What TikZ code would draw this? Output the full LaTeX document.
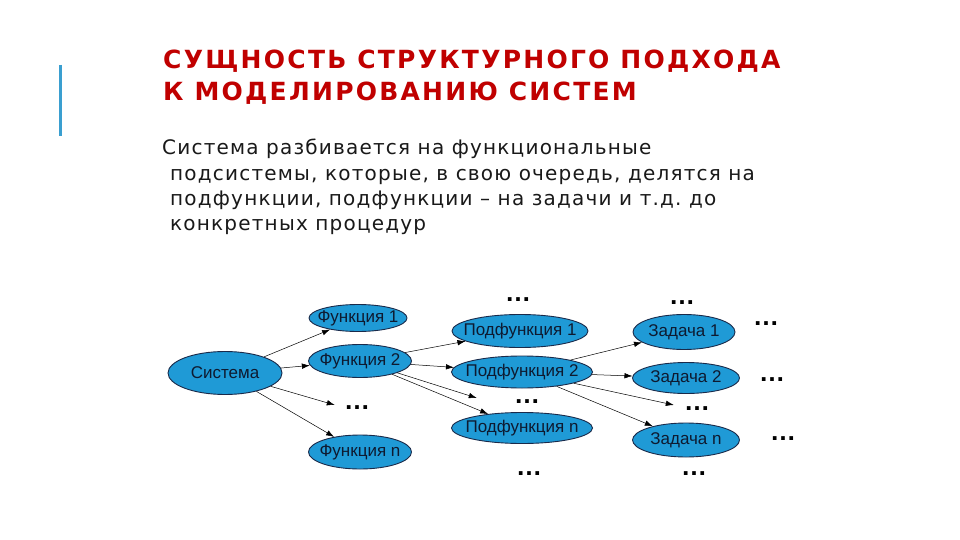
\documentclass[tikz,border=0pt]{standalone}
\usepackage{fontspec}
\setmainfont{DejaVu Sans}
\newfontfamily\titlefont[LetterSpace=9]{DejaVu Sans}
\newfontfamily\bodyfont[LetterSpace=6]{DejaVu Sans}
\newfontfamily\diagfont{Liberation Sans}
\usetikzlibrary{shapes.geometric,arrows.meta}
\frenchspacing
\definecolor{titlered}{HTML}{C00000}
\definecolor{barblue}{HTML}{3A9FD0}
\definecolor{ellfill}{HTML}{1F9AD6}
\definecolor{ellline}{HTML}{1A2A4A}
\definecolor{elltext}{HTML}{0E1A30}
\newcommand{\ctext}[1]{\makebox[0pt][c]{#1}}
\tikzset{
  ell/.style={ellipse, draw=ellline, line width=0.9pt, fill=ellfill, inner sep=0pt,
    font=\diagfont\fontsize{17}{20}\selectfont, text=elltext},
  dots/.style={inner sep=0pt, font=\diagfont\bfseries\fontsize{26}{28}\selectfont},
  arr/.style={-{Latex[length=8pt,width=5.5pt]}, line width=0.5pt, black},
  bodyline/.style={anchor=base west, inner sep=0pt, font=\bodyfont\fontsize{20}{24}\selectfont\frenchspacing, text=black!90},
  titleline/.style={anchor=base west, inner sep=0pt, font=\titlefont\bfseries\fontsize{25}{30}\selectfont, text=titlered}
}
\begin{document}
\begin{tikzpicture}[x=1pt,y=-1pt]
\useasboundingbox[fill=white] (0,0) rectangle (960,540);
% side bar
\draw[barblue, line width=3pt] (60.5,65) -- (60.5,136);
% title
\node[titleline] (t1) at (163,69) {СУЩНОСТЬ СТРУКТУРНОГО ПОДХОДА};
\node[titleline] (t2) at (163,101) {К МОДЕЛИРОВАНИЮ СИСТЕМ};
% body
\node[bodyline] (b1) at (162,155) {Система разбивается на функциональные};
\node[bodyline] (b2) at (170,180) {подсистемы, которые, в свою очередь, делятся на};
\node[bodyline] (b3) at (170,205) {подфункции, подфункции – на задачи и т.д. до};
\node[bodyline] (b4) at (170,230) {конкретных процедур};
% level 0
\node[ell, minimum width=114pt, minimum height=43pt] (sys) at (225,373) {\ctext{Система}};
% level 1
\node[ell, minimum width=98pt, minimum height=27pt] (f1) at (358,318) {\ctext{Функция 1}};
\node[ell, minimum width=103pt, minimum height=33pt] (f2) at (360,361) {\ctext{Функция 2}};
\node[dots] (fd) at (357,408) {…};
\node[ell, minimum width=103pt, minimum height=34pt] (fn) at (360,452) {\ctext{Функция n}};
% level 2
\node[dots] (pd0) at (518,300) {…};
\node[ell, minimum width=136pt, minimum height=33pt] (p1) at (520,331) {\ctext{Подфункция 1}};
\node[ell, minimum width=141pt, minimum height=32pt] (p2) at (522,372) {\ctext{Подфункция 2}};
\node[dots] (pd) at (527,402) {…};
\node[ell, minimum width=141pt, minimum height=31pt] (pn) at (522,428) {\ctext{Подфункция n}};
\node[dots] (pd2) at (529,474) {…};
% level 3
\node[dots] (zd0) at (682,303) {…};
\node[ell, minimum width=102pt, minimum height=35pt] (z1) at (684,332) {\ctext{Задача 1}};
\node[ell, minimum width=107pt, minimum height=31pt] (z2) at (686,378) {\ctext{Задача 2}};
\node[dots] (zd) at (697,409) {…};
\node[ell, minimum width=107pt, minimum height=34pt] (zn) at (686,440) {\ctext{Задача n}};
\node[dots] (zd2) at (694,474) {…};
\node[dots] (r1) at (766,324) {…};
\node[dots] (r2) at (772,380) {…};
\node[dots] (r3) at (783,439) {…};
% arrows
\draw[arr] (sys) -- (f1);
\draw[arr] (sys) -- (f2);
\draw[arr] (sys) -- ([xshift=-9pt,yshift=3pt]fd.west);
\draw[arr] (sys) -- (fn);
\draw[arr] (f2) -- (p1);
\draw[arr] (f2) -- (p2);
\draw[arr] (f2) -- ([xshift=-37pt,yshift=4pt]pd.west);
\draw[arr] (f2) -- (pn);
\draw[arr] (p2) -- (z1);
\draw[arr] (p2) -- (z2);
\draw[arr] (p2) -- ([xshift=-10pt,yshift=4pt]zd.west);
\draw[arr] (p2) -- (zn);
\end{tikzpicture}
\end{document}
